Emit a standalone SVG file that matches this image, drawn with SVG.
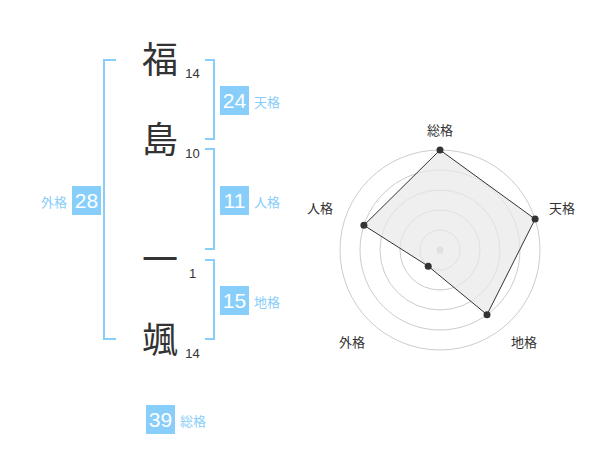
<svg xmlns="http://www.w3.org/2000/svg" width="600" height="470" viewBox="0 0 600 470">
<style>
.ch{font-family:"Noto Sans CJK JP","Noto Sans CJK SC",sans-serif;font-size:36px;fill:#333;text-anchor:middle}
.n{font-family:"Liberation Sans",Arial,sans-serif;font-size:13px;fill:#333;text-anchor:middle}
.br{fill:none;stroke:#87cefa;stroke-width:2}
.box{fill:#87cefa}
.bv{font-family:"Liberation Sans",Arial,sans-serif;font-size:21px;fill:#fff;text-anchor:middle}
.bl{font-family:"Noto Sans CJK JP","Noto Sans CJK SC",sans-serif;font-size:13px;fill:#87cefa}
.ring{fill:none;stroke:#ccc;stroke-width:1}
.rl{font-family:"Noto Sans CJK JP","Noto Sans CJK SC",sans-serif;font-size:13px;fill:#333;text-anchor:middle}
.pt{fill:#333}
</style>
<g id="connectors">
<path class="br" d="M116,60 H104 V339 H116"/>
<path class="br" d="M205,60 H214 V139 H205"/>
<path class="br" d="M205,149 H214 V249 H205"/>
<path class="br" d="M205,260 H214 V339 H205"/>
</g>
<g id="char1"><text class="ch" x="160" y="73">福</text><text class="n" x="192.5" y="78">14</text></g>
<g id="char2"><text class="ch" x="160" y="153">島</text><text class="n" x="192.5" y="158">10</text></g>
<g id="char3"><text class="ch" x="160" y="273">一</text><text class="n" x="192.5" y="278">1</text></g>
<g id="char4"><text class="ch" x="160" y="353">颯</text><text class="n" x="192.5" y="358">14</text></g>
<g id="tenkaku"><rect class="box" x="220" y="86" width="29" height="29"/><text class="bv" x="234.5" y="108">24</text><text class="bl" x="254" y="107">天格</text></g>
<g id="jinkaku"><rect class="box" x="220" y="186" width="29" height="29"/><text class="bv" x="234.5" y="208">11</text><text class="bl" x="254" y="207">人格</text></g>
<g id="chikaku"><rect class="box" x="220" y="286" width="29" height="29"/><text class="bv" x="234.5" y="308">15</text><text class="bl" x="254" y="307">地格</text></g>
<g id="gaikaku"><rect class="box" x="72" y="186" width="29" height="29"/><text class="bv" x="86.5" y="208">28</text><text class="bl" x="41" y="207">外格</text></g>
<g id="soukaku"><rect class="box" x="146" y="405" width="29" height="29"/><text class="bv" x="160.5" y="427">39</text><text class="bl" x="180" y="426">総格</text></g>
<g id="radar">
<circle class="ring" cx="440" cy="250" r="20"/>
<circle class="ring" cx="440" cy="250" r="40"/>
<circle class="ring" cx="440" cy="250" r="60"/>
<circle class="ring" cx="440" cy="250" r="80"/>
<circle class="ring" cx="440" cy="250" r="100"/>
<circle cx="440" cy="250" r="3.5" fill="#ccc"/>
<polygon points="440,150 535.1,219.1 487,314.7 428.2,266.2 363.9,225.3" fill="#e8e8e8" fill-opacity="0.7" stroke="#333" stroke-width="1"/>
<circle class="pt" cx="440" cy="150" r="3.5"/>
<circle class="pt" cx="535.1" cy="219.1" r="3.5"/>
<circle class="pt" cx="487" cy="314.7" r="3.5"/>
<circle class="pt" cx="428.2" cy="266.2" r="3.5"/>
<circle class="pt" cx="363.9" cy="225.3" r="3.5"/>
<text class="rl" x="440" y="135">総格</text>
<text class="rl" x="562" y="213">天格</text>
<text class="rl" x="524" y="347">地格</text>
<text class="rl" x="352" y="347">外格</text>
<text class="rl" x="320" y="213">人格</text>
</g>
</svg>
